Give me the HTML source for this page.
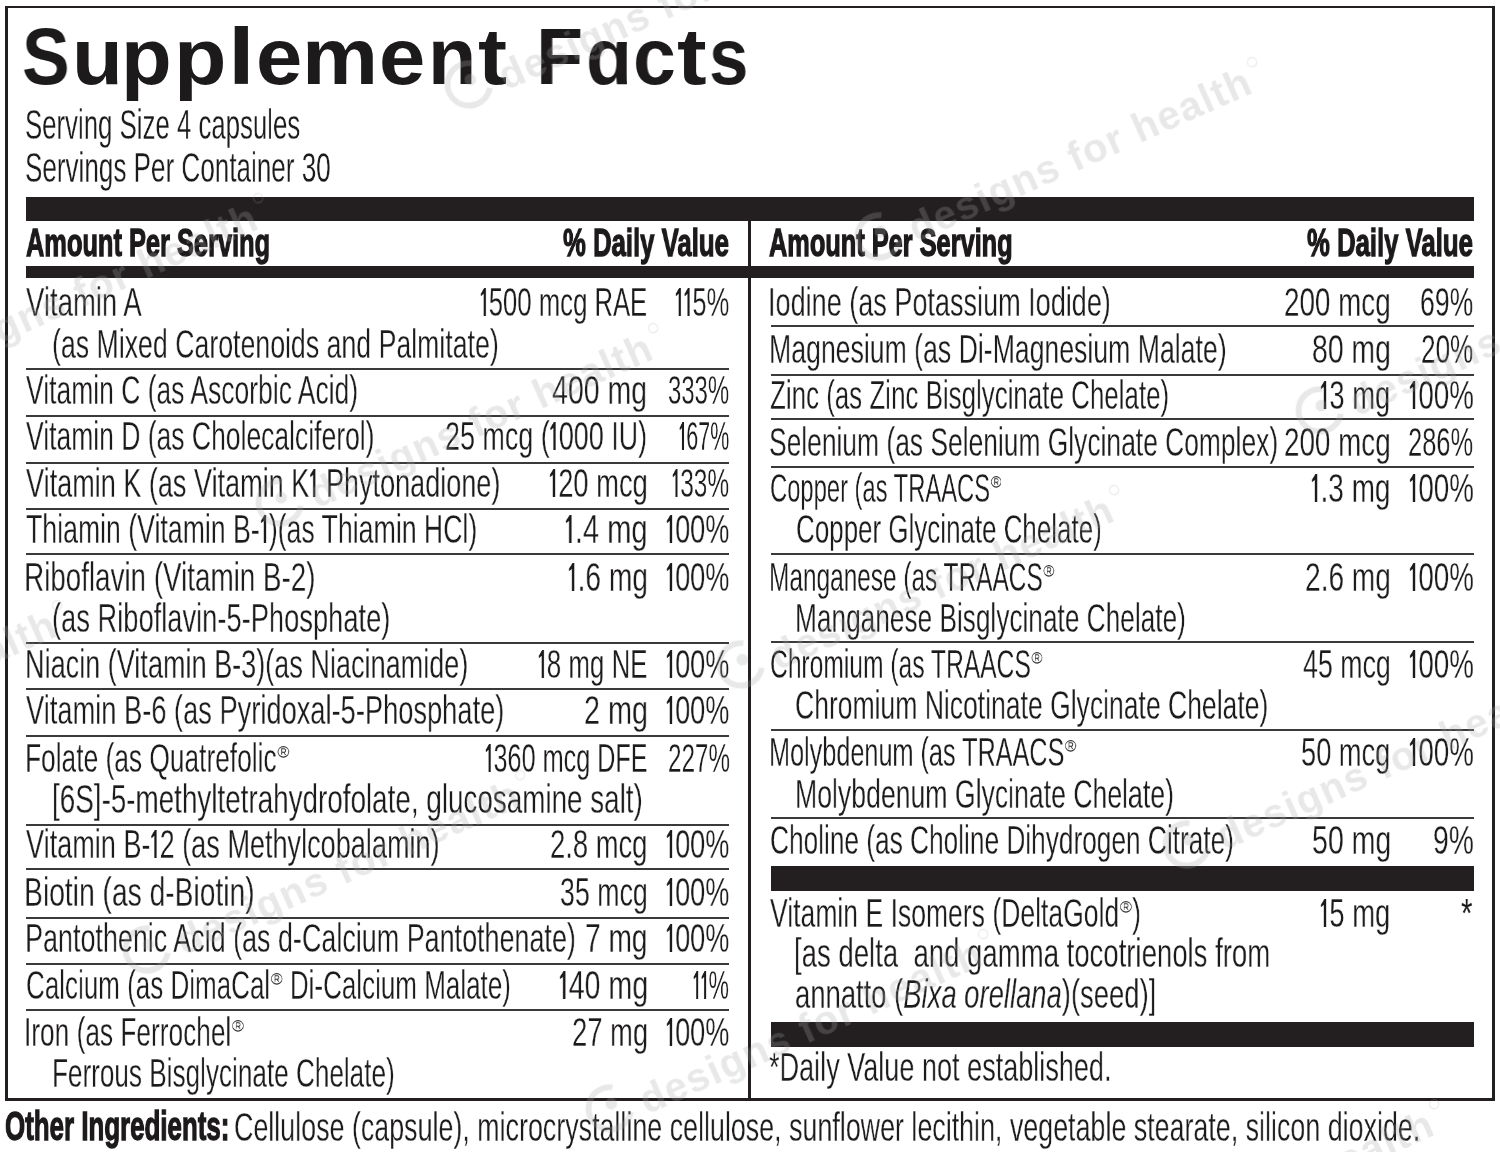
<!DOCTYPE html>
<html><head><meta charset="utf-8"><style>
html,body{margin:0;padding:0;background:#fff;}
body{width:1500px;height:1152px;position:relative;overflow:hidden;font-family:"Liberation Sans",sans-serif;color:#1d1a1b;}
.t{position:absolute;white-space:nowrap;transform-origin:0 0;line-height:1;will-change:transform;}
.k0{-webkit-text-stroke:0.3px #fff;}
.k1{-webkit-text-stroke:1.3px #1d1a1b;}
.d1{width:0.337em;height:0.7em;fill:currentColor;vertical-align:baseline;}
.rg{width:0.46em;height:0.287em;vertical-align:0.35em;margin-left:0.02em;color:#333;}
.b{position:absolute;background:#231f20;}
.ru{position:absolute;background:#3a3a3a;height:2px;}
i{font-style:italic;}
.wm{position:absolute;width:0;height:0;transform:rotate(-24deg);transform-origin:0 0;color:rgba(168,168,168,0.26);}
.wt{position:absolute;left:-371px;top:-33.9px;font-size:40px;line-height:1;font-weight:700;letter-spacing:1.5px;white-space:nowrap;}
.wl{position:absolute;left:-432px;top:-50px;width:58px;height:58px;fill:currentColor;}
.wr{position:absolute;left:4px;top:-34px;width:11px;height:11px;}
</style></head><body>

<div class="b" style="left:5px;top:6px;width:1490px;height:2.4px"></div>
<div class="b" style="left:5px;top:1098px;width:1490px;height:3px"></div>
<div class="b" style="left:5px;top:6px;width:2.6px;height:1095px"></div>
<div class="b" style="left:1492px;top:6px;width:3px;height:1095px"></div>
<div class="b" style="left:26px;top:197px;width:1448px;height:23.8px"></div>
<div class="b" style="left:26px;top:266px;width:1448px;height:12px"></div>
<div class="b" style="left:748.3px;top:221px;width:2.8px;height:877px"></div>
<div class="b" style="left:770.5px;top:866px;width:1703px;height:24.7px;width:703.5px"></div>
<div class="b" style="left:770.5px;top:1022.4px;width:703.5px;height:24.2px"></div>
<div class="ru" style="left:26px;top:368.2px;width:703px"></div>
<div class="ru" style="left:26px;top:414.8px;width:703px"></div>
<div class="ru" style="left:26px;top:461.6px;width:703px"></div>
<div class="ru" style="left:26px;top:507.5px;width:703px"></div>
<div class="ru" style="left:26px;top:552.5px;width:703px"></div>
<div class="ru" style="left:26px;top:642.4px;width:703px"></div>
<div class="ru" style="left:26px;top:687.5px;width:703px"></div>
<div class="ru" style="left:26px;top:735.1px;width:703px"></div>
<div class="ru" style="left:26px;top:824.4px;width:703px"></div>
<div class="ru" style="left:26px;top:868.0px;width:703px"></div>
<div class="ru" style="left:26px;top:916.5px;width:703px"></div>
<div class="ru" style="left:26px;top:962.5px;width:703px"></div>
<div class="ru" style="left:26px;top:1008.9px;width:703px"></div>
<div class="ru" style="left:770.5px;top:325.2px;width:703.5px"></div>
<div class="ru" style="left:770.5px;top:374.3px;width:703.5px"></div>
<div class="ru" style="left:770.5px;top:418.3px;width:703.5px"></div>
<div class="ru" style="left:770.5px;top:466.1px;width:703.5px"></div>
<div class="ru" style="left:770.5px;top:552.7px;width:703.5px"></div>
<div class="ru" style="left:770.5px;top:641.2px;width:703.5px"></div>
<div class="ru" style="left:770.5px;top:728.7px;width:703.5px"></div>
<div class="ru" style="left:770.5px;top:817.3px;width:703.5px"></div>
<div class="t" style="left:22.28px;top:17.13px;font-size:79.00px;font-weight:700;transform:scaleX(0.9045)">S</div>
<div class="t" style="left:71.92px;top:17.13px;font-size:79.00px;font-weight:700;transform:scaleX(1.0526)">u</div>
<div class="t" style="left:120.92px;top:17.13px;font-size:79.00px;font-weight:700;transform:scaleX(1.0504)">p</div>
<div class="t" style="left:173.54px;top:17.13px;font-size:79.00px;font-weight:700;transform:scaleX(1.0880)">p</div>
<div class="t" style="left:227.50px;top:17.13px;font-size:79.00px;font-weight:700;transform:scaleX(1.2174)">l</div>
<div class="t" style="left:255.66px;top:17.13px;font-size:79.00px;font-weight:700;transform:scaleX(1.0526)">e</div>
<div class="t" style="left:302.41px;top:17.13px;font-size:79.00px;font-weight:700;transform:scaleX(1.0833)">m</div>
<div class="t" style="left:379.03px;top:17.13px;font-size:79.00px;font-weight:700;transform:scaleX(1.0526)">e</div>
<div class="t" style="left:427.80px;top:17.13px;font-size:79.00px;font-weight:700;transform:scaleX(1.0004)">n</div>
<div class="t" style="left:477.75px;top:17.13px;font-size:79.00px;font-weight:700;transform:scaleX(1.1048)">t</div>
<div class="t" style="left:535.53px;top:17.13px;font-size:79.00px;font-weight:700;transform:scaleX(0.9754)">F</div>
<div class="t" style="left:585.52px;top:17.13px;font-size:79.00px;font-weight:700;transform:scaleX(0.9504)">ɑ</div>
<div class="t" style="left:633.47px;top:17.13px;font-size:79.00px;font-weight:700;transform:scaleX(0.9740)">c</div>
<div class="t" style="left:677.32px;top:17.13px;font-size:79.00px;font-weight:700;transform:scaleX(1.1259)">t</div>
<div class="t" style="left:709.31px;top:17.13px;font-size:79.00px;font-weight:700;transform:scaleX(0.8952)">s</div>
<div class="t k0" style="left:24.54px;top:104.45px;font-size:42.00px;font-weight:400;transform:scaleX(0.6139)">Serving Size 4 capsules</div>
<div class="t k0" style="left:24.52px;top:147.25px;font-size:42.00px;font-weight:400;transform:scaleX(0.6205)">Servings Per Container 30</div>
<div class="t k1" style="left:26.00px;top:222.82px;font-size:39.20px;font-weight:700;transform:scaleX(0.6480)">Amount Per Serving</div>
<div class="t k1" style="left:563.04px;top:222.82px;font-size:39.20px;font-weight:700;transform:scaleX(0.6564)">% Daily Value</div>
<div class="t k1" style="left:769.00px;top:222.82px;font-size:39.20px;font-weight:700;transform:scaleX(0.6467)">Amount Per Serving</div>
<div class="t k1" style="left:1307.04px;top:222.82px;font-size:39.20px;font-weight:700;transform:scaleX(0.6564)">% Daily Value</div>
<div class="t k0" style="left:26.06px;top:281.95px;font-size:40.70px;font-weight:400;transform:scaleX(0.6758)">Vitamin A</div>
<div class="t k0" style="left:480.12px;top:281.95px;font-size:40.70px;font-weight:400;transform:scaleX(0.6319)"><svg class="d1" viewBox="0 0 337 700" preserveAspectRatio="none"><path d="M226 700L140 700L140 140L40 205L28 150L160 0L226 0Z"/></svg>500 mcg RAE</div>
<div class="t k0" style="left:675.12px;top:281.95px;font-size:40.70px;font-weight:400;transform:scaleX(0.6301)"><svg class="d1" viewBox="0 0 337 700" preserveAspectRatio="none"><path d="M226 700L140 700L140 140L40 205L28 150L160 0L226 0Z"/></svg><svg class="d1" viewBox="0 0 337 700" preserveAspectRatio="none"><path d="M226 700L140 700L140 140L40 205L28 150L160 0L226 0Z"/></svg>5%</div>
<div class="t k0" style="left:52.22px;top:323.65px;font-size:40.70px;font-weight:400;transform:scaleX(0.6563)">(as Mixed Carotenoids and Palmitate)</div>
<div class="t k0" style="left:26.10px;top:369.85px;font-size:40.70px;font-weight:400;transform:scaleX(0.6508)">Vitamin C (as Ascorbic Acid)</div>
<div class="t k0" style="left:552.04px;top:369.85px;font-size:40.70px;font-weight:400;transform:scaleX(0.7011)">400 mg</div>
<div class="t k0" style="left:668.18px;top:369.85px;font-size:40.70px;font-weight:400;transform:scaleX(0.5869)">333%</div>
<div class="t k0" style="left:26.10px;top:415.65px;font-size:40.70px;font-weight:400;transform:scaleX(0.6512)">Vitamin D (as Cholecalciferol)</div>
<div class="t k0" style="left:445.20px;top:415.65px;font-size:40.70px;font-weight:400;transform:scaleX(0.6617)">25 mcg (<svg class="d1" viewBox="0 0 337 700" preserveAspectRatio="none"><path d="M226 700L140 700L140 140L40 205L28 150L160 0L226 0Z"/></svg>000 IU)</div>
<div class="t k0" style="left:679.26px;top:415.65px;font-size:40.70px;font-weight:400;transform:scaleX(0.5292)"><svg class="d1" viewBox="0 0 337 700" preserveAspectRatio="none"><path d="M226 700L140 700L140 140L40 205L28 150L160 0L226 0Z"/></svg>67%</div>
<div class="t k0" style="left:26.08px;top:463.15px;font-size:40.70px;font-weight:400;transform:scaleX(0.6651)">Vitamin K (as Vitamin K<svg class="d1" viewBox="0 0 337 700" preserveAspectRatio="none"><path d="M226 700L140 700L140 140L40 205L28 150L160 0L226 0Z"/></svg> Phytonadione)</div>
<div class="t k0" style="left:549.07px;top:463.15px;font-size:40.70px;font-weight:400;transform:scaleX(0.6711)"><svg class="d1" viewBox="0 0 337 700" preserveAspectRatio="none"><path d="M226 700L140 700L140 140L40 205L28 150L160 0L226 0Z"/></svg>20 mcg</div>
<div class="t k0" style="left:672.25px;top:463.15px;font-size:40.70px;font-weight:400;transform:scaleX(0.6000)"><svg class="d1" viewBox="0 0 337 700" preserveAspectRatio="none"><path d="M226 700L140 700L140 140L40 205L28 150L160 0L226 0Z"/></svg>33%</div>
<div class="t k0" style="left:26.09px;top:509.45px;font-size:40.70px;font-weight:400;transform:scaleX(0.6557)">Thiamin (Vitamin B-<svg class="d1" viewBox="0 0 337 700" preserveAspectRatio="none"><path d="M226 700L140 700L140 140L40 205L28 150L160 0L226 0Z"/></svg>)(as Thiamin HCl)</div>
<div class="t k0" style="left:565.02px;top:509.45px;font-size:40.70px;font-weight:400;transform:scaleX(0.7156)"><svg class="d1" viewBox="0 0 337 700" preserveAspectRatio="none"><path d="M226 700L140 700L140 140L40 205L28 150L160 0L226 0Z"/></svg>.4 mg</div>
<div class="t k0" style="left:666.11px;top:509.45px;font-size:40.70px;font-weight:400;transform:scaleX(0.6655)"><svg class="d1" viewBox="0 0 337 700" preserveAspectRatio="none"><path d="M226 700L140 700L140 140L40 205L28 150L160 0L226 0Z"/></svg>00%</div>
<div class="t k0" style="left:24.15px;top:556.55px;font-size:40.70px;font-weight:400;transform:scaleX(0.6831)">Riboflavin (Vitamin B-2)</div>
<div class="t k0" style="left:568.04px;top:556.55px;font-size:40.70px;font-weight:400;transform:scaleX(0.6930)"><svg class="d1" viewBox="0 0 337 700" preserveAspectRatio="none"><path d="M226 700L140 700L140 140L40 205L28 150L160 0L226 0Z"/></svg>.6 mg</div>
<div class="t k0" style="left:666.11px;top:556.55px;font-size:40.70px;font-weight:400;transform:scaleX(0.6655)"><svg class="d1" viewBox="0 0 337 700" preserveAspectRatio="none"><path d="M226 700L140 700L140 140L40 205L28 150L160 0L226 0Z"/></svg>00%</div>
<div class="t k0" style="left:52.17px;top:597.55px;font-size:40.70px;font-weight:400;transform:scaleX(0.6709)">(as Riboflavin-5-Phosphate)</div>
<div class="t k0" style="left:25.23px;top:644.45px;font-size:40.70px;font-weight:400;transform:scaleX(0.6654)">Niacin (Vitamin B-3)(as Niacinamide)</div>
<div class="t k0" style="left:538.12px;top:644.45px;font-size:40.70px;font-weight:400;transform:scaleX(0.6367)"><svg class="d1" viewBox="0 0 337 700" preserveAspectRatio="none"><path d="M226 700L140 700L140 140L40 205L28 150L160 0L226 0Z"/></svg>8 mg NE</div>
<div class="t k0" style="left:666.11px;top:644.45px;font-size:40.70px;font-weight:400;transform:scaleX(0.6655)"><svg class="d1" viewBox="0 0 337 700" preserveAspectRatio="none"><path d="M226 700L140 700L140 140L40 205L28 150L160 0L226 0Z"/></svg>00%</div>
<div class="t k0" style="left:26.07px;top:690.05px;font-size:40.70px;font-weight:400;transform:scaleX(0.6700)">Vitamin B-6 (as Pyridoxal-5-Phosphate)</div>
<div class="t k0" style="left:584.03px;top:690.05px;font-size:40.70px;font-weight:400;transform:scaleX(0.7082)">2 mg</div>
<div class="t k0" style="left:666.11px;top:690.05px;font-size:40.70px;font-weight:400;transform:scaleX(0.6655)"><svg class="d1" viewBox="0 0 337 700" preserveAspectRatio="none"><path d="M226 700L140 700L140 140L40 205L28 150L160 0L226 0Z"/></svg>00%</div>
<div class="t k0" style="left:25.30px;top:737.85px;font-size:40.70px;font-weight:400;transform:scaleX(0.6470)">Folate (as Quatrefolic<svg class="rg" viewBox="0 0 100 100" preserveAspectRatio="none"><ellipse cx="50" cy="50" rx="45" ry="45" fill="none" stroke="currentColor" stroke-width="1.1" vector-effect="non-scaling-stroke"/><path d="M36 76V24H54Q68 24 68 39Q68 54 54 54H36M52 54L68 76" fill="none" stroke="currentColor" stroke-width="1.1" vector-effect="non-scaling-stroke"/></svg></div>
<div class="t k0" style="left:485.14px;top:737.85px;font-size:40.70px;font-weight:400;transform:scaleX(0.6194)"><svg class="d1" viewBox="0 0 337 700" preserveAspectRatio="none"><path d="M226 700L140 700L140 140L40 205L28 150L160 0L226 0Z"/></svg>360 mcg DFE</div>
<div class="t k0" style="left:668.35px;top:737.85px;font-size:40.70px;font-weight:400;transform:scaleX(0.5951)">227%</div>
<div class="t k0" style="left:52.13px;top:779.45px;font-size:40.70px;font-weight:400;transform:scaleX(0.6839)">[6S]-5-methyltetrahydrofolate, glucosamine salt)</div>
<div class="t k0" style="left:26.08px;top:824.45px;font-size:40.70px;font-weight:400;transform:scaleX(0.6657)">Vitamin B-<svg class="d1" viewBox="0 0 337 700" preserveAspectRatio="none"><path d="M226 700L140 700L140 140L40 205L28 150L160 0L226 0Z"/></svg>2 (as Methylcobalamin)</div>
<div class="t k0" style="left:550.17px;top:824.45px;font-size:40.70px;font-weight:400;transform:scaleX(0.6732)">2.8 mcg</div>
<div class="t k0" style="left:666.11px;top:824.45px;font-size:40.70px;font-weight:400;transform:scaleX(0.6655)"><svg class="d1" viewBox="0 0 337 700" preserveAspectRatio="none"><path d="M226 700L140 700L140 140L40 205L28 150L160 0L226 0Z"/></svg>00%</div>
<div class="t k0" style="left:24.11px;top:871.55px;font-size:40.70px;font-weight:400;transform:scaleX(0.6939)">Biotin (as d-Biotin)</div>
<div class="t k0" style="left:560.09px;top:871.55px;font-size:40.70px;font-weight:400;transform:scaleX(0.6581)">35 mcg</div>
<div class="t k0" style="left:666.11px;top:871.55px;font-size:40.70px;font-weight:400;transform:scaleX(0.6655)"><svg class="d1" viewBox="0 0 337 700" preserveAspectRatio="none"><path d="M226 700L140 700L140 140L40 205L28 150L160 0L226 0Z"/></svg>00%</div>
<div class="t k0" style="left:25.24px;top:917.75px;font-size:40.70px;font-weight:400;transform:scaleX(0.6618)">Pantothenic Acid (as d-Calcium Pantothenate)</div>
<div class="t k0" style="left:585.11px;top:917.75px;font-size:40.70px;font-weight:400;transform:scaleX(0.6906)">7 mg</div>
<div class="t k0" style="left:666.11px;top:917.75px;font-size:40.70px;font-weight:400;transform:scaleX(0.6655)"><svg class="d1" viewBox="0 0 337 700" preserveAspectRatio="none"><path d="M226 700L140 700L140 140L40 205L28 150L160 0L226 0Z"/></svg>00%</div>
<div class="t k0" style="left:26.22px;top:965.15px;font-size:40.70px;font-weight:400;transform:scaleX(0.6390)">Calcium (as DimaCal<svg class="rg" viewBox="0 0 100 100" preserveAspectRatio="none"><ellipse cx="50" cy="50" rx="45" ry="45" fill="none" stroke="currentColor" stroke-width="1.1" vector-effect="non-scaling-stroke"/><path d="M36 76V24H54Q68 24 68 39Q68 54 54 54H36M52 54L68 76" fill="none" stroke="currentColor" stroke-width="1.1" vector-effect="non-scaling-stroke"/></svg> Di-Calcium Malate)</div>
<div class="t k0" style="left:559.02px;top:965.15px;font-size:40.70px;font-weight:400;transform:scaleX(0.7036)"><svg class="d1" viewBox="0 0 337 700" preserveAspectRatio="none"><path d="M226 700L140 700L140 140L40 205L28 150L160 0L226 0Z"/></svg>40 mg</div>
<div class="t k0" style="left:693.22px;top:965.15px;font-size:40.70px;font-weight:400;transform:scaleX(0.5648)"><svg class="d1" viewBox="0 0 337 700" preserveAspectRatio="none"><path d="M226 700L140 700L140 140L40 205L28 150L160 0L226 0Z"/></svg><svg class="d1" viewBox="0 0 337 700" preserveAspectRatio="none"><path d="M226 700L140 700L140 140L40 205L28 150L160 0L226 0Z"/></svg>%</div>
<div class="t k0" style="left:24.31px;top:1011.75px;font-size:40.70px;font-weight:400;transform:scaleX(0.6456)">Iron (as Ferrochel<svg class="rg" viewBox="0 0 100 100" preserveAspectRatio="none"><ellipse cx="50" cy="50" rx="45" ry="45" fill="none" stroke="currentColor" stroke-width="1.1" vector-effect="non-scaling-stroke"/><path d="M36 76V24H54Q68 24 68 39Q68 54 54 54H36M52 54L68 76" fill="none" stroke="currentColor" stroke-width="1.1" vector-effect="non-scaling-stroke"/></svg></div>
<div class="t k0" style="left:572.13px;top:1011.75px;font-size:40.70px;font-weight:400;transform:scaleX(0.6732)">27 mg</div>
<div class="t k0" style="left:666.11px;top:1011.75px;font-size:40.70px;font-weight:400;transform:scaleX(0.6655)"><svg class="d1" viewBox="0 0 337 700" preserveAspectRatio="none"><path d="M226 700L140 700L140 140L40 205L28 150L160 0L226 0Z"/></svg>00%</div>
<div class="t k0" style="left:52.37px;top:1053.35px;font-size:40.70px;font-weight:400;transform:scaleX(0.6421)">Ferrous Bisglycinate Chelate)</div>
<div class="t k0" style="left:768.23px;top:281.95px;font-size:40.70px;font-weight:400;transform:scaleX(0.6649)">Iodine (as Potassium Iodide)</div>
<div class="t k0" style="left:1284.12px;top:281.95px;font-size:40.70px;font-weight:400;transform:scaleX(0.6834)">200 mcg</div>
<div class="t k0" style="left:1420.23px;top:281.95px;font-size:40.70px;font-weight:400;transform:scaleX(0.6545)">69%</div>
<div class="t k0" style="left:769.27px;top:329.05px;font-size:40.70px;font-weight:400;transform:scaleX(0.6549)">Magnesium (as Di-Magnesium Malate)</div>
<div class="t k0" style="left:1312.04px;top:329.05px;font-size:40.70px;font-weight:400;transform:scaleX(0.6970)">80 mg</div>
<div class="t k0" style="left:1421.24px;top:329.05px;font-size:40.70px;font-weight:400;transform:scaleX(0.6417)">20%</div>
<div class="t k0" style="left:770.11px;top:375.05px;font-size:40.70px;font-weight:400;transform:scaleX(0.6372)">Zinc (as Zinc Bisglycinate Chelate)</div>
<div class="t k0" style="left:1320.10px;top:375.05px;font-size:40.70px;font-weight:400;transform:scaleX(0.6751)"><svg class="d1" viewBox="0 0 337 700" preserveAspectRatio="none"><path d="M226 700L140 700L140 140L40 205L28 150L160 0L226 0Z"/></svg>3 mg</div>
<div class="t k0" style="left:1409.05px;top:375.05px;font-size:40.70px;font-weight:400;transform:scaleX(0.6819)"><svg class="d1" viewBox="0 0 337 700" preserveAspectRatio="none"><path d="M226 700L140 700L140 140L40 205L28 150L160 0L226 0Z"/></svg>00%</div>
<div class="t k0" style="left:769.20px;top:421.55px;font-size:40.70px;font-weight:400;transform:scaleX(0.6488)">Selenium (as Selenium Glycinate Complex)</div>
<div class="t k0" style="left:1284.12px;top:421.55px;font-size:40.70px;font-weight:400;transform:scaleX(0.6834)">200 mcg</div>
<div class="t k0" style="left:1408.25px;top:421.55px;font-size:40.70px;font-weight:400;transform:scaleX(0.6252)">286%</div>
<div class="t k0" style="left:770.37px;top:468.05px;font-size:40.70px;font-weight:400;transform:scaleX(0.5839)">Copper (as TRAACS<svg class="rg" viewBox="0 0 100 100" preserveAspectRatio="none"><ellipse cx="50" cy="50" rx="45" ry="45" fill="none" stroke="currentColor" stroke-width="1.1" vector-effect="non-scaling-stroke"/><path d="M36 76V24H54Q68 24 68 39Q68 54 54 54H36M52 54L68 76" fill="none" stroke="currentColor" stroke-width="1.1" vector-effect="non-scaling-stroke"/></svg></div>
<div class="t k0" style="left:1311.07px;top:468.05px;font-size:40.70px;font-weight:400;transform:scaleX(0.6886)"><svg class="d1" viewBox="0 0 337 700" preserveAspectRatio="none"><path d="M226 700L140 700L140 140L40 205L28 150L160 0L226 0Z"/></svg>.3 mg</div>
<div class="t k0" style="left:1409.05px;top:468.05px;font-size:40.70px;font-weight:400;transform:scaleX(0.6819)"><svg class="d1" viewBox="0 0 337 700" preserveAspectRatio="none"><path d="M226 700L140 700L140 140L40 205L28 150L160 0L226 0Z"/></svg>00%</div>
<div class="t k0" style="left:796.23px;top:508.75px;font-size:40.70px;font-weight:400;transform:scaleX(0.6377)">Copper Glycinate Chelate)</div>
<div class="t k0" style="left:768.50px;top:556.55px;font-size:40.70px;font-weight:400;transform:scaleX(0.6000)">Manganese (as TRAACS<svg class="rg" viewBox="0 0 100 100" preserveAspectRatio="none"><ellipse cx="50" cy="50" rx="45" ry="45" fill="none" stroke="currentColor" stroke-width="1.1" vector-effect="non-scaling-stroke"/><path d="M36 76V24H54Q68 24 68 39Q68 54 54 54H36M52 54L68 76" fill="none" stroke="currentColor" stroke-width="1.1" vector-effect="non-scaling-stroke"/></svg></div>
<div class="t k0" style="left:1305.10px;top:556.55px;font-size:40.70px;font-weight:400;transform:scaleX(0.6904)">2.6 mg</div>
<div class="t k0" style="left:1409.05px;top:556.55px;font-size:40.70px;font-weight:400;transform:scaleX(0.6819)"><svg class="d1" viewBox="0 0 337 700" preserveAspectRatio="none"><path d="M226 700L140 700L140 140L40 205L28 150L160 0L226 0Z"/></svg>00%</div>
<div class="t k0" style="left:795.31px;top:597.55px;font-size:40.70px;font-weight:400;transform:scaleX(0.6448)">Manganese Bisglycinate Chelate)</div>
<div class="t k0" style="left:770.32px;top:644.05px;font-size:40.70px;font-weight:400;transform:scaleX(0.6049)">Chromium (as TRAACS<svg class="rg" viewBox="0 0 100 100" preserveAspectRatio="none"><ellipse cx="50" cy="50" rx="45" ry="45" fill="none" stroke="currentColor" stroke-width="1.1" vector-effect="non-scaling-stroke"/><path d="M36 76V24H54Q68 24 68 39Q68 54 54 54H36M52 54L68 76" fill="none" stroke="currentColor" stroke-width="1.1" vector-effect="non-scaling-stroke"/></svg></div>
<div class="t k0" style="left:1303.09px;top:644.05px;font-size:40.70px;font-weight:400;transform:scaleX(0.6581)">45 mcg</div>
<div class="t k0" style="left:1409.05px;top:644.05px;font-size:40.70px;font-weight:400;transform:scaleX(0.6819)"><svg class="d1" viewBox="0 0 337 700" preserveAspectRatio="none"><path d="M226 700L140 700L140 140L40 205L28 150L160 0L226 0Z"/></svg>00%</div>
<div class="t k0" style="left:795.19px;top:685.45px;font-size:40.70px;font-weight:400;transform:scaleX(0.6520)">Chromium Nicotinate Glycinate Chelate)</div>
<div class="t k0" style="left:769.41px;top:731.55px;font-size:40.70px;font-weight:400;transform:scaleX(0.6201)">Molybdenum (as TRAACS<svg class="rg" viewBox="0 0 100 100" preserveAspectRatio="none"><ellipse cx="50" cy="50" rx="45" ry="45" fill="none" stroke="currentColor" stroke-width="1.1" vector-effect="non-scaling-stroke"/><path d="M36 76V24H54Q68 24 68 39Q68 54 54 54H36M52 54L68 76" fill="none" stroke="currentColor" stroke-width="1.1" vector-effect="non-scaling-stroke"/></svg></div>
<div class="t k0" style="left:1301.16px;top:731.55px;font-size:40.70px;font-weight:400;transform:scaleX(0.6692)">50 mcg</div>
<div class="t k0" style="left:1409.05px;top:731.55px;font-size:40.70px;font-weight:400;transform:scaleX(0.6819)"><svg class="d1" viewBox="0 0 337 700" preserveAspectRatio="none"><path d="M226 700L140 700L140 140L40 205L28 150L160 0L226 0Z"/></svg>00%</div>
<div class="t k0" style="left:795.27px;top:774.05px;font-size:40.70px;font-weight:400;transform:scaleX(0.6545)">Molybdenum Glycinate Chelate)</div>
<div class="t k0" style="left:770.21px;top:819.85px;font-size:40.70px;font-weight:400;transform:scaleX(0.6451)">Choline (as Choline Dihydrogen Citrate)</div>
<div class="t k0" style="left:1312.05px;top:819.85px;font-size:40.70px;font-weight:400;transform:scaleX(0.7013)">50 mg</div>
<div class="t k0" style="left:1433.06px;top:819.85px;font-size:40.70px;font-weight:400;transform:scaleX(0.6928)">9%</div>
<div class="t k0" style="left:770.09px;top:892.75px;font-size:40.70px;font-weight:400;transform:scaleX(0.6526)">Vitamin E Isomers (DeltaGold<svg class="rg" viewBox="0 0 100 100" preserveAspectRatio="none"><ellipse cx="50" cy="50" rx="45" ry="45" fill="none" stroke="currentColor" stroke-width="1.1" vector-effect="non-scaling-stroke"/><path d="M36 76V24H54Q68 24 68 39Q68 54 54 54H36M52 54L68 76" fill="none" stroke="currentColor" stroke-width="1.1" vector-effect="non-scaling-stroke"/></svg>)</div>
<div class="t k0" style="left:1320.10px;top:892.75px;font-size:40.70px;font-weight:400;transform:scaleX(0.6751)"><svg class="d1" viewBox="0 0 337 700" preserveAspectRatio="none"><path d="M226 700L140 700L140 140L40 205L28 150L160 0L226 0Z"/></svg>5 mg</div>
<div class="t k0" style="left:794.15px;top:933.35px;font-size:40.70px;font-weight:400;transform:scaleX(0.6770)">[as delta&nbsp; and gamma tocotrienols from</div>
<div class="t k0" style="left:795.10px;top:974.45px;font-size:40.70px;font-weight:400;transform:scaleX(0.6739)">annatto (<i>Bixa orellana</i>)(seed)]</div>
<div class="t k0" style="left:769.08px;top:1046.85px;font-size:40.70px;font-weight:400;transform:scaleX(0.6651)">*Daily Value not established.</div>
<div class="t" style="left:1461.00px;top:893.15px;font-size:40.70px;font-weight:400;transform:scaleX(0.7200)">*</div>
<div class="t k1" style="left:5.13px;top:1105.95px;font-size:41.40px;font-weight:700;transform:scaleX(0.6254)">Other Ingredients:</div>
<div class="t k0" style="left:234.20px;top:1107.45px;font-size:40.70px;font-weight:400;transform:scaleX(0.6598)">Cellulose (capsule), microcrystalline cellulose, sunflower lecithin, vegetable stearate, silicon dioxide.</div>
<div class="wm" style="left:1255.0px;top:92.0px"><span class="wt">designs for health</span><svg class="wl" viewBox="-30 -30 60 60"><path d="M12 -19A22 22 0 1 0 19 12" fill="none" stroke="currentColor" stroke-width="6"/><circle cx="4" cy="-4" r="6"/></svg><svg class="wr" viewBox="-6 -6 12 12"><circle r="5" fill="none" stroke="currentColor" stroke-width="1.2"/></svg></div>
<div class="wm" style="left:656.0px;top:358.0px"><span class="wt">designs for health</span><svg class="wl" viewBox="-30 -30 60 60"><path d="M12 -19A22 22 0 1 0 19 12" fill="none" stroke="currentColor" stroke-width="6"/><circle cx="4" cy="-4" r="6"/></svg><svg class="wr" viewBox="-6 -6 12 12"><circle r="5" fill="none" stroke="currentColor" stroke-width="1.2"/></svg></div>
<div class="wm" style="left:261.0px;top:228.0px"><span class="wt">designs for health</span><svg class="wl" viewBox="-30 -30 60 60"><path d="M12 -19A22 22 0 1 0 19 12" fill="none" stroke="currentColor" stroke-width="6"/><circle cx="4" cy="-4" r="6"/></svg><svg class="wr" viewBox="-6 -6 12 12"><circle r="5" fill="none" stroke="currentColor" stroke-width="1.2"/></svg></div>
<div class="wm" style="left:523.0px;top:805.0px"><span class="wt">designs for health</span><svg class="wl" viewBox="-30 -30 60 60"><path d="M12 -19A22 22 0 1 0 19 12" fill="none" stroke="currentColor" stroke-width="6"/><circle cx="4" cy="-4" r="6"/></svg><svg class="wr" viewBox="-6 -6 12 12"><circle r="5" fill="none" stroke="currentColor" stroke-width="1.2"/></svg></div>
<div class="wm" style="left:1117.0px;top:520.0px"><span class="wt">designs for health</span><svg class="wl" viewBox="-30 -30 60 60"><path d="M12 -19A22 22 0 1 0 19 12" fill="none" stroke="currentColor" stroke-width="6"/><circle cx="4" cy="-4" r="6"/></svg><svg class="wr" viewBox="-6 -6 12 12"><circle r="5" fill="none" stroke="currentColor" stroke-width="1.2"/></svg></div>
<div class="wm" style="left:1696.0px;top:266.0px"><span class="wt">designs for health</span><svg class="wl" viewBox="-30 -30 60 60"><path d="M12 -19A22 22 0 1 0 19 12" fill="none" stroke="currentColor" stroke-width="6"/><circle cx="4" cy="-4" r="6"/></svg><svg class="wr" viewBox="-6 -6 12 12"><circle r="5" fill="none" stroke="currentColor" stroke-width="1.2"/></svg></div>
<div class="wm" style="left:1563.0px;top:700.0px"><span class="wt">designs for health</span><svg class="wl" viewBox="-30 -30 60 60"><path d="M12 -19A22 22 0 1 0 19 12" fill="none" stroke="currentColor" stroke-width="6"/><circle cx="4" cy="-4" r="6"/></svg><svg class="wr" viewBox="-6 -6 12 12"><circle r="5" fill="none" stroke="currentColor" stroke-width="1.2"/></svg></div>
<div class="wm" style="left:986.0px;top:964.0px"><span class="wt">designs for health</span><svg class="wl" viewBox="-30 -30 60 60"><path d="M12 -19A22 22 0 1 0 19 12" fill="none" stroke="currentColor" stroke-width="6"/><circle cx="4" cy="-4" r="6"/></svg><svg class="wr" viewBox="-6 -6 12 12"><circle r="5" fill="none" stroke="currentColor" stroke-width="1.2"/></svg></div>
<div class="wm" style="left:845.0px;top:-60.0px"><span class="wt">designs for health</span><svg class="wl" viewBox="-30 -30 60 60"><path d="M12 -19A22 22 0 1 0 19 12" fill="none" stroke="currentColor" stroke-width="6"/><circle cx="4" cy="-4" r="6"/></svg><svg class="wr" viewBox="-6 -6 12 12"><circle r="5" fill="none" stroke="currentColor" stroke-width="1.2"/></svg></div>
<div class="wm" style="left:1842.0px;top:-177.0px"><span class="wt">designs for health</span><svg class="wl" viewBox="-30 -30 60 60"><path d="M12 -19A22 22 0 1 0 19 12" fill="none" stroke="currentColor" stroke-width="6"/><circle cx="4" cy="-4" r="6"/></svg><svg class="wr" viewBox="-6 -6 12 12"><circle r="5" fill="none" stroke="currentColor" stroke-width="1.2"/></svg></div>
<div class="wm" style="left:60.0px;top:635.0px"><span class="wt">designs for health</span><svg class="wl" viewBox="-30 -30 60 60"><path d="M12 -19A22 22 0 1 0 19 12" fill="none" stroke="currentColor" stroke-width="6"/><circle cx="4" cy="-4" r="6"/></svg><svg class="wr" viewBox="-6 -6 12 12"><circle r="5" fill="none" stroke="currentColor" stroke-width="1.2"/></svg></div>
<div class="wm" style="left:1437.0px;top:1134.0px"><span class="wt">designs for health</span><svg class="wl" viewBox="-30 -30 60 60"><path d="M12 -19A22 22 0 1 0 19 12" fill="none" stroke="currentColor" stroke-width="6"/><circle cx="4" cy="-4" r="6"/></svg><svg class="wr" viewBox="-6 -6 12 12"><circle r="5" fill="none" stroke="currentColor" stroke-width="1.2"/></svg></div>
<div class="wm" style="left:392.0px;top:1217.0px"><span class="wt">designs for health</span><svg class="wl" viewBox="-30 -30 60 60"><path d="M12 -19A22 22 0 1 0 19 12" fill="none" stroke="currentColor" stroke-width="6"/><circle cx="4" cy="-4" r="6"/></svg><svg class="wr" viewBox="-6 -6 12 12"><circle r="5" fill="none" stroke="currentColor" stroke-width="1.2"/></svg></div>
</body></html>
